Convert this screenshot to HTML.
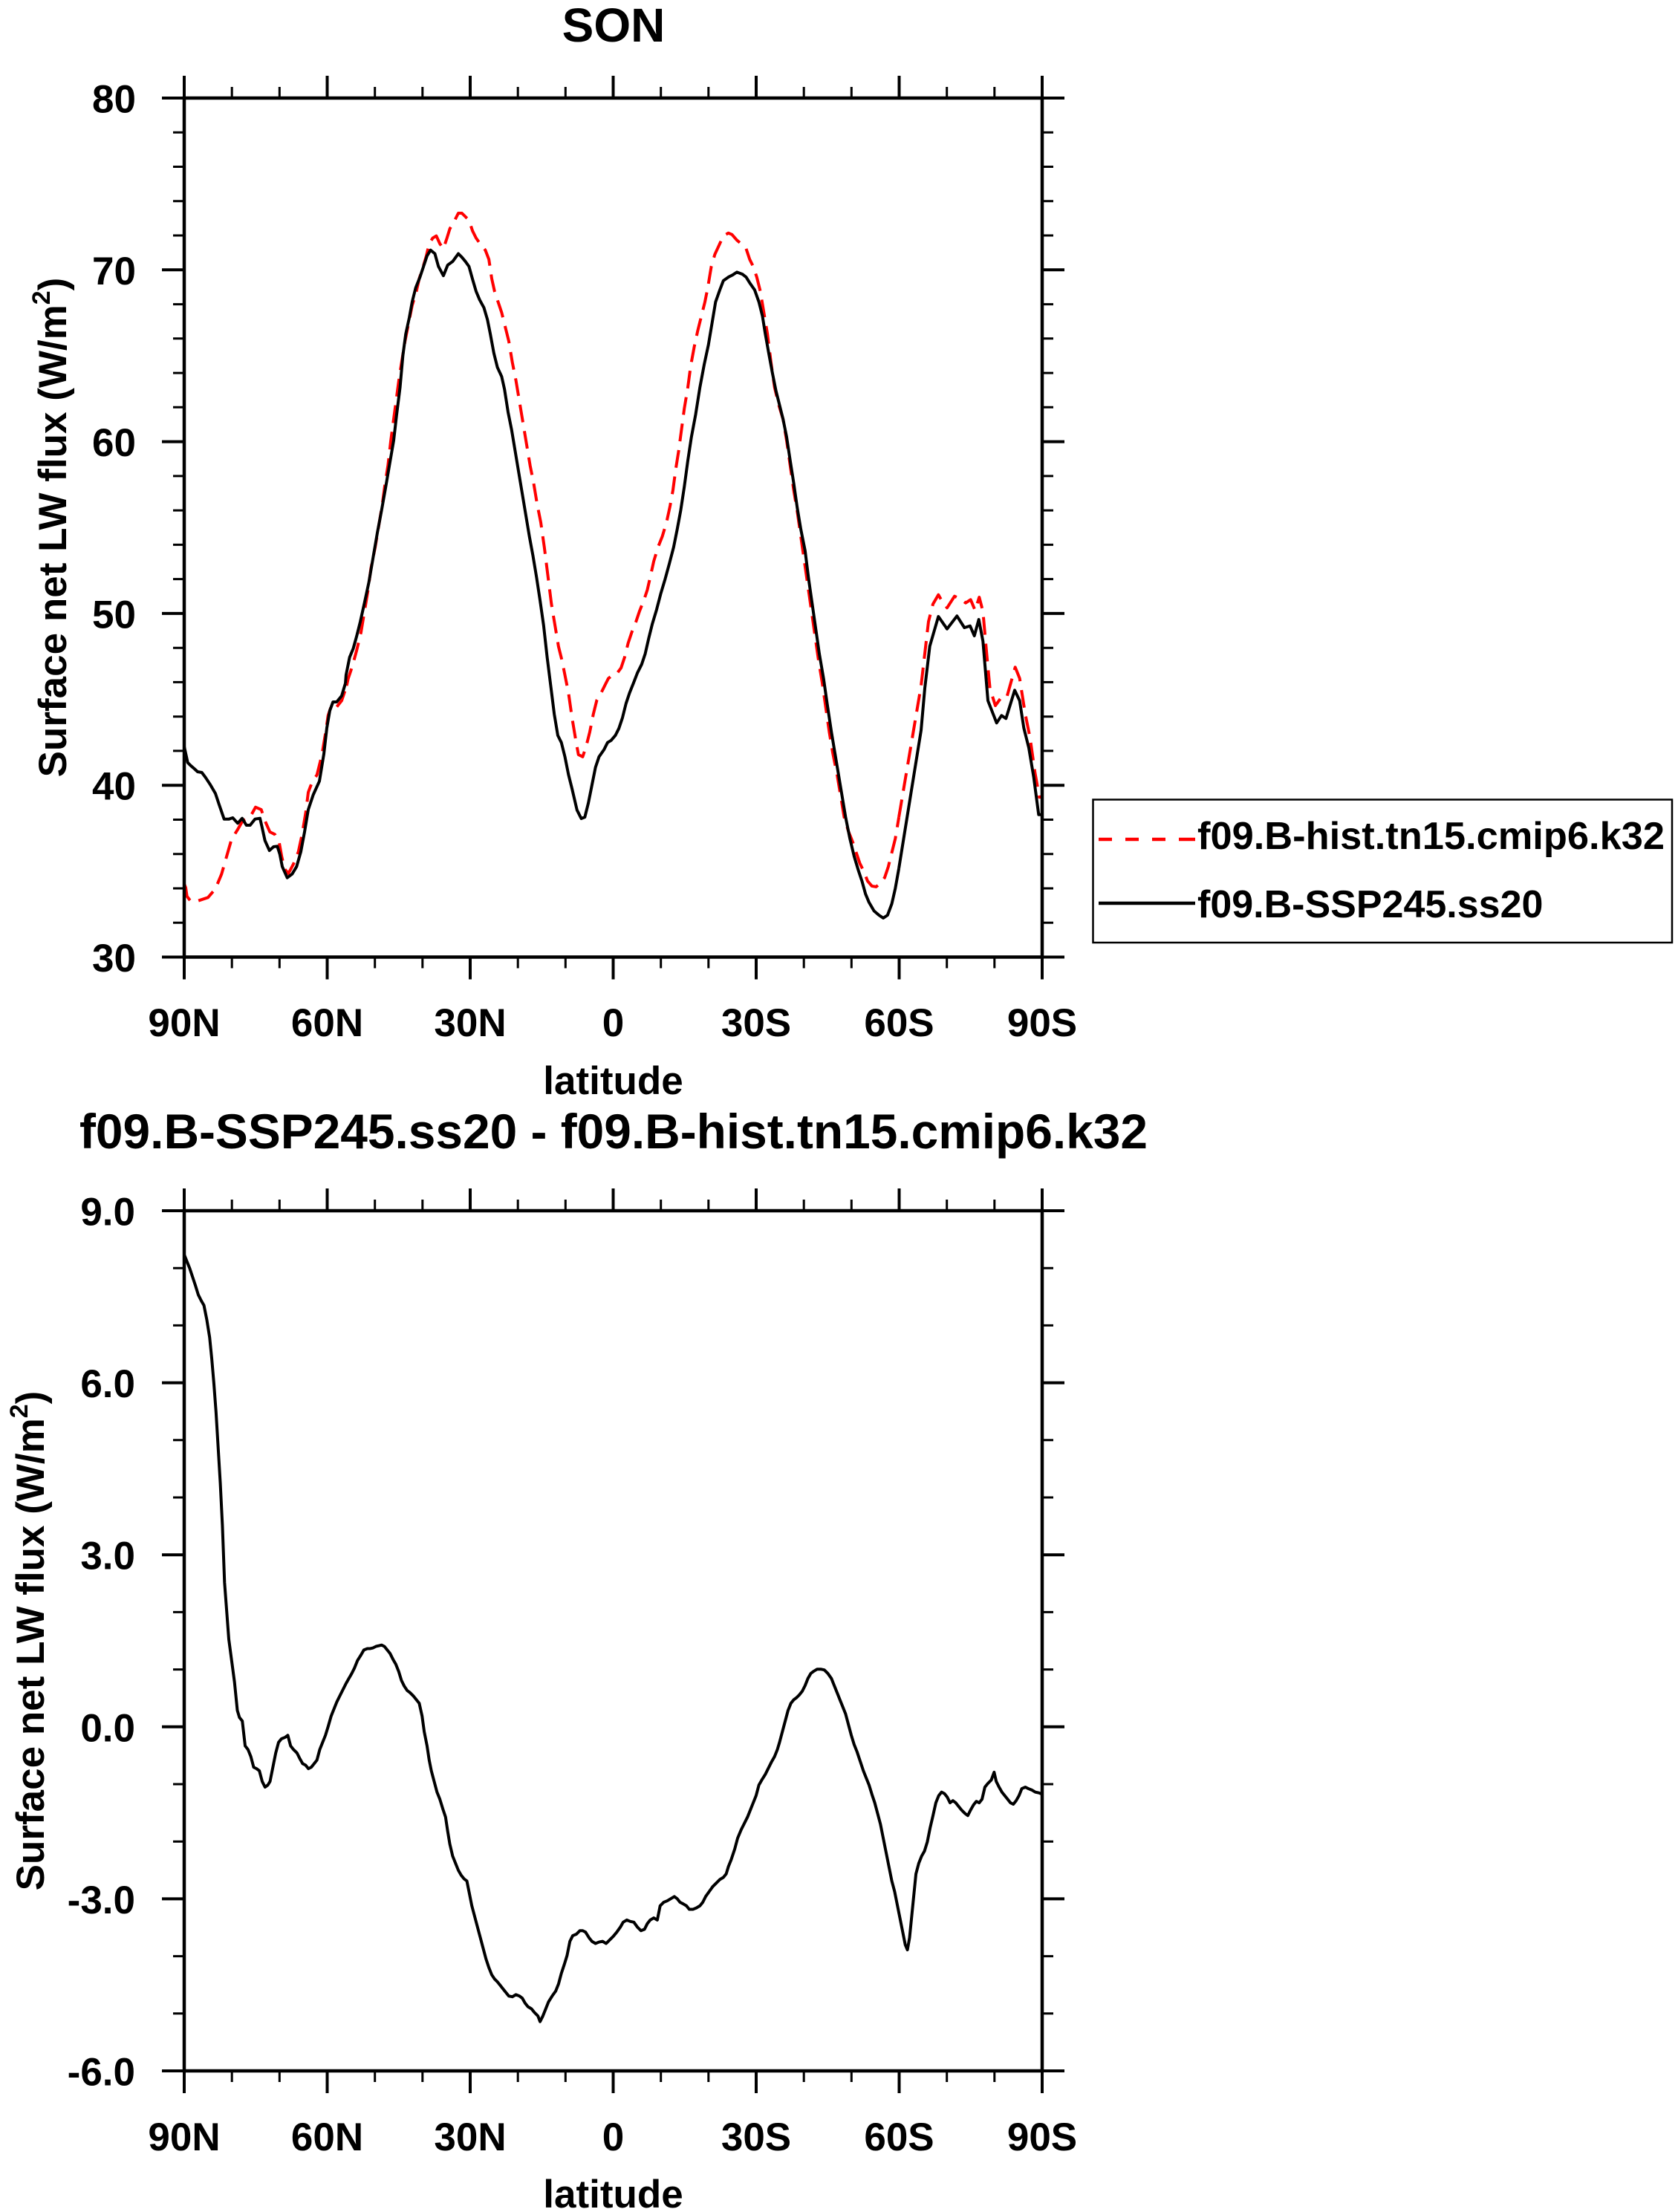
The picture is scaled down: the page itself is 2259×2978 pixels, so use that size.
<!DOCTYPE html>
<html>
<head>
<meta charset="utf-8">
<style>
html,body{margin:0;padding:0;background:#fff;}
svg{display:block;}
text{font-family:"Liberation Sans",Arial,Helvetica,sans-serif;font-weight:bold;fill:#000;}
</style>
</head>
<body>
<svg width="2259" height="2978" viewBox="0 0 2259 2978" xmlns="http://www.w3.org/2000/svg">
<rect x="0" y="0" width="2259" height="2978" fill="#fff"/>

<!-- ================= TOP PLOT ================= -->
<text x="826" y="56" font-size="64" text-anchor="middle">SON</text>

<!-- curves: red dashed -->
<g fill="none" stroke="#ff0000" stroke-width="4" stroke-linejoin="round" stroke-dasharray="24 12">
<polyline points="248,1190 250,1195 251.7,1206.7 256.7,1213.3 266.7,1212.7 280,1208.3 290,1196.7 298.3,1176.7 305,1153.3 311.7,1130 320,1116.7 326.7,1105 336.7,1100 344,1086.7 351.7,1090 356.7,1105 363.3,1120 370,1123.3 376,1135 379.3,1153.3 383.3,1170 388.3,1176 395,1163.3 401.7,1146.7 406.7,1123.3 411.7,1093.3 415,1066.7 420,1053.3 426.7,1043.3 433.3,1016.7 438.3,986.7 441.7,963.3 446.7,948.3 453.3,951.7 460,943.3 466.7,923.3"/>
<polyline points="1210.1,1100.1 1240,923.3 1245,880 1250,836.7 1256,813.3 1263.3,800.7 1266.7,806.7 1275,818.3 1285,802.7 1293.3,806.7 1300,811.7 1306.7,807.3 1312.7,821.7 1318.3,804 1323.3,823.3 1328.3,880 1332.7,926.7 1340,950 1346.7,940.7 1355,940 1366.7,898.3 1372.7,913.3 1380,960 1386.7,993.3 1393.3,1040 1399.3,1073.3 1403,1073"/>
</g>
<g transform="scale(0.95663)" fill="none" stroke="#ff0000" stroke-width="4.18" stroke-linejoin="round" stroke-dasharray="25.1 12.5">
<polyline points="487.8,965 490,955 496,937 502,915 508,890 513,860 518,830 522,800 528,770 533,740 538,710 542,680 546,655 550,620 554,590 558,560 562,530 566,505 570,480 575,455 580,430 586,410 590,392 595,377 600,360 604,343 609,335 614,332 619,343 624,350 629,335 633,322 639,312 645,300 650,300 655,305 660,310 665,325 670,335 677,345 683,352 688,365 692,392 696,410 701,425 706,440 711,460 716,480 721,510 726,535 731,565 736,595 741,625 746,655 751,680 756,710 761,735 766,770 771,810 776,850 781,880 786,910 791,930 796,955 800,975 805,1010 810,1040 814,1062 820,1065 825,1050 830,1030 835,1005 840,985 846,975 851,965 856,955 862,950 868,948 874,940 879,925 884,905 889,890 895,875 900,860 906,845 911,830 916,808 920,790 926,770 932,755 938,735 943,712 947,690 951,660 955,635 959,605 963,575 968,545 972,515 977,488 982,465 987,445 992,425 996,405 1001,375 1006,358 1012,345 1018,332 1025,328 1030,330 1037,338 1043,343 1050,350 1055,365 1060,375 1065,390 1070,410 1075,440 1080,470 1085,510 1090,545 1096,570 1102,590 1107,620 1112,655 1117,690 1122,720 1127,755 1132,790 1137,825 1142,860 1147,895 1152,930 1157,960 1162,995 1167,1030 1172,1060 1178,1090 1183,1120 1188,1150 1194,1170 1200,1185 1205,1200 1210,1215 1215,1225 1221,1240 1227,1247 1233,1248 1240,1242 1245,1235 1250,1220 1255,1200 1260,1180 1265,1150"/>
</g>

<!-- curves: black solid -->
<g fill="none" stroke="#000" stroke-width="4" stroke-linejoin="round">
<polyline points="248,1005 252.7,1026.7 256.7,1030.7 261.7,1035 266,1039 271.7,1040 276.7,1046.7 283.3,1056.7 290,1068.3 295,1083.3 301.7,1102.7 308.3,1102.7 313.3,1101 320,1108.3 326,1101.7 331.7,1111 336.7,1111 343.3,1102.7 350,1101.7 352.7,1113.3 356.7,1131.7 362.7,1145 368.3,1140 373.3,1139.3 376.7,1150 380,1166.7 386.7,1181.7 393.3,1176.7 399.3,1166.7 405,1146.7 410,1120 415,1090 421.7,1070 430,1051.7 436,1015 440,980 444,956.7 448.3,945 453.3,945 460,936.7 465,920"/>
<polyline points="1210.1,1169 1240,983.3 1245,926.7 1251.7,870 1263.3,830 1275,846.7 1288.3,829.3 1298.3,845 1306,842.7 1311.7,856 1317.7,834 1323.3,863.3 1330,943.3 1341.7,973.3 1348.3,963.3 1354.3,967.3 1366,929.3 1372.7,943.3 1378.3,980 1385,1006.7 1391.7,1046.7 1398.3,1096.7 1403,1096.7"/>
</g>
<g transform="scale(0.95663)" fill="none" stroke="#000" stroke-width="4.18" stroke-linejoin="round">
<polyline points="486.1,961.7 487,950 492,925 497,913 502,895 507,875 513,848 519,820 525,785 531,750 537,718 542,690 548,655 554,620 558,585 563,545 567,500 571,470 576,447 580,425 585,405 591,390 596,375 601,360 606,352 612,357 617,375 624,388 630,373 637,368 645,357 650,362 655,368 660,375 665,393 670,410 675,422 681,433 686,450 690,470 695,497 700,517 706,530 710,548 715,580 720,605 725,635 730,665 735,695 740,725 745,755 750,782 755,812 760,845 765,880 770,925 775,965 780,1005 785,1035 790,1045 795,1065 800,1090 805,1110 812,1140 818,1152 823,1150 828,1130 833,1105 838,1080 843,1065 850,1055 855,1045 860,1042 866,1035 871,1025 876,1010 881,990 886,975 892,960 897,947 903,935 908,920 913,898 918,878 924,858 930,835 936,815 942,793 948,770 953,745 958,718 963,685 968,648 973,615 979,583 985,545 991,513 997,485 1002,455 1007,425 1013,408 1018,395 1025,390 1031,387 1037,383 1045,386 1050,390 1055,398 1062,408 1068,425 1073,445 1077,470 1082,498 1087,525 1092,550 1097,570 1102,590 1107,615 1112,648 1117,680 1122,715 1127,745 1133,775 1138,815 1143,850 1148,885 1153,920 1159,955 1164,990 1170,1030 1175,1060 1180,1090 1185,1120 1190,1150 1196,1180 1202,1205 1208,1225 1213,1240 1218,1258 1223,1270 1230,1282 1237,1288 1243,1292 1249,1288 1255,1272 1260,1250 1265,1222"/>
</g>

<!-- frame -->
<rect x="248" y="132" width="1155" height="1156.5" fill="none" stroke="#000" stroke-width="4.5"/>
<!-- major ticks -->
<path fill="none" stroke="#000" stroke-width="4" d="
M248 132V102 M440.5 132V102 M633 132V102 M825.5 132V102 M1018 132V102 M1210.5 132V102 M1403 132V102
M248 1288.5V1318.5 M440.5 1288.5V1318.5 M633 1288.5V1318.5 M825.5 1288.5V1318.5 M1018 1288.5V1318.5 M1210.5 1288.5V1318.5 M1403 1288.5V1318.5
M248 132H218 M248 363.3H218 M248 594.6H218 M248 825.9H218 M248 1057.2H218 M248 1288.5H218
M1403 132H1433 M1403 363.3H1433 M1403 594.6H1433 M1403 825.9H1433 M1403 1057.2H1433 M1403 1288.5H1433"/>
<!-- minor ticks -->
<path fill="none" stroke="#000" stroke-width="3" d="
M312.2 132V117 M376.3 132V117 M504.7 132V117 M568.8 132V117 M697.2 132V117 M761.3 132V117 M889.7 132V117 M953.8 132V117 M1082.2 132V117 M1146.3 132V117 M1274.7 132V117 M1338.8 132V117
M312.2 1288.5V1303.5 M376.3 1288.5V1303.5 M504.7 1288.5V1303.5 M568.8 1288.5V1303.5 M697.2 1288.5V1303.5 M761.3 1288.5V1303.5 M889.7 1288.5V1303.5 M953.8 1288.5V1303.5 M1082.2 1288.5V1303.5 M1146.3 1288.5V1303.5 M1274.7 1288.5V1303.5 M1338.8 1288.5V1303.5
M248 178.3H233 M248 224.5H233 M248 270.8H233 M248 317H233 M248 409.6H233 M248 455.8H233 M248 502.1H233 M248 548.3H233 M248 640.9H233 M248 687.1H233 M248 733.4H233 M248 779.6H233 M248 872.2H233 M248 918.4H233 M248 964.7H233 M248 1010.9H233 M248 1103.5H233 M248 1149.7H233 M248 1196H233 M248 1242.2H233
M1403 178.3H1418 M1403 224.5H1418 M1403 270.8H1418 M1403 317H1418 M1403 409.6H1418 M1403 455.8H1418 M1403 502.1H1418 M1403 548.3H1418 M1403 640.9H1418 M1403 687.1H1418 M1403 733.4H1418 M1403 779.6H1418 M1403 872.2H1418 M1403 918.4H1418 M1403 964.7H1418 M1403 1010.9H1418 M1403 1103.5H1418 M1403 1149.7H1418 M1403 1196H1418 M1403 1242.2H1418"/>

<!-- y tick labels -->
<g font-size="53" text-anchor="end">
<text x="183" y="151.5">80</text>
<text x="183" y="382.8">70</text>
<text x="183" y="614.1">60</text>
<text x="183" y="845.4">50</text>
<text x="183" y="1076.7">40</text>
<text x="183" y="1308">30</text>
</g>
<!-- x tick labels -->
<g font-size="53" text-anchor="middle">
<text x="248" y="1395">90N</text>
<text x="440.5" y="1395">60N</text>
<text x="633" y="1395">30N</text>
<text x="825.5" y="1395">0</text>
<text x="1018" y="1395">30S</text>
<text x="1210.5" y="1395">60S</text>
<text x="1403" y="1395">90S</text>
</g>
<text x="825.5" y="1473" font-size="53" text-anchor="middle">latitude</text>
<text transform="translate(89,710) rotate(-90)" font-size="53" text-anchor="middle">Surface net LW flux (W/m<tspan font-size="34" dy="-22">2</tspan><tspan dy="22">)</tspan></text>

<!-- legend -->
<rect x="1471.5" y="1076.5" width="779.5" height="192.5" fill="#fff" stroke="#000" stroke-width="2.5"/>
<path fill="none" stroke="#ff0000" stroke-width="4.5" d="M1479 1130H1497 M1515 1130H1533 M1551 1130H1569 M1587 1130H1609"/>
<path fill="none" stroke="#000" stroke-width="4.5" d="M1479 1216H1609"/>
<text x="1612" y="1143" font-size="52" textLength="629" lengthAdjust="spacingAndGlyphs">f09.B-hist.tn15.cmip6.k32</text>
<text x="1612" y="1235" font-size="52">f09.B-SSP245.ss20</text>

<!-- ================= BOTTOM PLOT ================= -->
<text x="826" y="1546" font-size="66" text-anchor="middle" textLength="1438" lengthAdjust="spacingAndGlyphs">f09.B-SSP245.ss20 - f09.B-hist.tn15.cmip6.k32</text>

<g transform="translate(0,1480) scale(0.95663)" fill="none" stroke="#000" stroke-width="4.18" stroke-linejoin="round">
<polyline points="259,218 263,228 267,238 271,250 275,262 279,275 283,283 287,290 291,310 295,335 298,365 301,400 304,440 307,490 310,540 313,600 316,680 319,720 322,760 326,790 330,820 334,860 337,870 341,875 345,910 349,915 353,925 357,940 361,942 365,945 369,960 373,968 377,965 380,960 384,940 388,920 392,905 396,900 401,898 405,895 409,910 413,915 418,920 422,928 426,935 430,937 434,942 438,940 442,935 446,930 450,915 454,905 458,895 462,882 466,868 470,858 474,848 479,838 483,830 487,822 491,815 495,808 499,800 503,790 508,782 512,775 517,773 521,773 525,772 529,770 533,769 537,768 541,770 545,775 549,780 553,788 557,795 561,805 565,818 569,826 573,832 577,835 582,840 586,845 590,850 594,868 597,890 601,910 604,930 607,945 611,960 615,975 619,985 623,998 627,1010 630,1030 633,1048 637,1065 641,1075 645,1085 649,1092 653,1097 657,1100 660,1115 664,1135 668,1150 672,1165 676,1180 680,1195 684,1210 688,1222 692,1232 696,1238 700,1242 704,1247 708,1252 712,1257 716,1262 721,1263 726,1260 731,1262 735,1265 739,1272 743,1277 748,1280 752,1285 757,1290 760,1298 764,1290 768,1280 772,1270 777,1262 782,1255 786,1245 790,1230 794,1218 798,1205 802,1185 806,1177 811,1175 816,1170 820,1170 824,1172 829,1180 833,1185 838,1188 843,1186 848,1185 853,1188 858,1183 863,1178 868,1172 873,1165 877,1158 882,1155 887,1157 892,1158 897,1165 902,1170 907,1168 911,1160 915,1155 920,1152 925,1155 929,1135 934,1130 939,1128 944,1125 949,1122 953,1125 957,1130 961,1132 966,1135 970,1140 975,1140 980,1138 985,1135 989,1130 993,1122 998,1115 1003,1108 1008,1103 1013,1098 1018,1095 1022,1090 1025,1080 1029,1070 1034,1055 1038,1040 1043,1028 1047,1020 1052,1010 1056,1000 1060,990 1064,980 1068,965 1072,958 1077,950 1081,942 1086,932 1090,925 1094,915 1097,905 1101,890 1105,875 1109,860 1113,850 1117,845 1121,842 1125,838 1129,833 1133,825 1137,815 1141,808 1145,805 1150,802 1155,802 1160,803 1165,808 1170,815 1174,825 1178,835 1182,845 1186,855 1190,865 1194,880 1198,895 1202,908 1206,918 1210,930 1215,945 1219,955 1223,965 1227,978 1231,990 1235,1005 1239,1020 1243,1040 1247,1060 1251,1080 1255,1100 1259,1115 1263,1135 1267,1155 1271,1175 1274,1190 1277,1197 1280,1180 1283,1150 1286,1120 1289,1090 1293,1075 1297,1065 1301,1058 1305,1045 1309,1025 1313,1008 1317,990 1321,980 1325,975 1329,977 1333,982 1337,990 1341,987 1345,990 1349,995 1353,1000 1358,1005 1362,1008 1366,1000 1370,993 1374,988 1378,990 1382,985 1386,968 1390,963 1395,958 1399,947 1402,960 1406,968 1410,975 1414,980 1418,985 1422,990 1426,992 1430,987 1434,980 1438,970 1443,968 1447,970 1452,972 1457,975 1462,976 1467,978"/>
</g>

<!-- frame -->
<rect x="248" y="1630" width="1155" height="1158" fill="none" stroke="#000" stroke-width="4.5"/>
<path fill="none" stroke="#000" stroke-width="4" d="
M248 1630V1600 M440.5 1630V1600 M633 1630V1600 M825.5 1630V1600 M1018 1630V1600 M1210.5 1630V1600 M1403 1630V1600
M248 2788V2818 M440.5 2788V2818 M633 2788V2818 M825.5 2788V2818 M1018 2788V2818 M1210.5 2788V2818 M1403 2788V2818
M248 1630H218 M248 1861.6H218 M248 2093.2H218 M248 2324.8H218 M248 2556.4H218 M248 2788H218
M1403 1630H1433 M1403 1861.6H1433 M1403 2093.2H1433 M1403 2324.8H1433 M1403 2556.4H1433 M1403 2788H1433"/>
<path fill="none" stroke="#000" stroke-width="3" d="
M312.2 1630V1615 M376.3 1630V1615 M504.7 1630V1615 M568.8 1630V1615 M697.2 1630V1615 M761.3 1630V1615 M889.7 1630V1615 M953.8 1630V1615 M1082.2 1630V1615 M1146.3 1630V1615 M1274.7 1630V1615 M1338.8 1630V1615
M312.2 2788V2803 M376.3 2788V2803 M504.7 2788V2803 M568.8 2788V2803 M697.2 2788V2803 M761.3 2788V2803 M889.7 2788V2803 M953.8 2788V2803 M1082.2 2788V2803 M1146.3 2788V2803 M1274.7 2788V2803 M1338.8 2788V2803
M248 1707.2H233 M248 1784.4H233 M248 1938.8H233 M248 2016H233 M248 2170.4H233 M248 2247.6H233 M248 2402H233 M248 2479.2H233 M248 2633.6H233 M248 2710.8H233
M1403 1707.2H1418 M1403 1784.4H1418 M1403 1938.8H1418 M1403 2016H1418 M1403 2170.4H1418 M1403 2247.6H1418 M1403 2402H1418 M1403 2479.2H1418 M1403 2633.6H1418 M1403 2710.8H1418"/>

<g font-size="53" text-anchor="end">
<text x="182" y="1649.5">9.0</text>
<text x="182" y="1881.1">6.0</text>
<text x="182" y="2112.7">3.0</text>
<text x="182" y="2344.3">0.0</text>
<text x="182" y="2575.9">-3.0</text>
<text x="182" y="2807.5">-6.0</text>
</g>
<g font-size="53" text-anchor="middle">
<text x="248" y="2895">90N</text>
<text x="440.5" y="2895">60N</text>
<text x="633" y="2895">30N</text>
<text x="825.5" y="2895">0</text>
<text x="1018" y="2895">30S</text>
<text x="1210.5" y="2895">60S</text>
<text x="1403" y="2895">90S</text>
</g>
<text x="825.5" y="2972" font-size="53" text-anchor="middle">latitude</text>
<text transform="translate(59,2209) rotate(-90)" font-size="53" text-anchor="middle">Surface net LW flux (W/m<tspan font-size="34" dy="-22">2</tspan><tspan dy="22">)</tspan></text>

</svg>
</body>
</html>
